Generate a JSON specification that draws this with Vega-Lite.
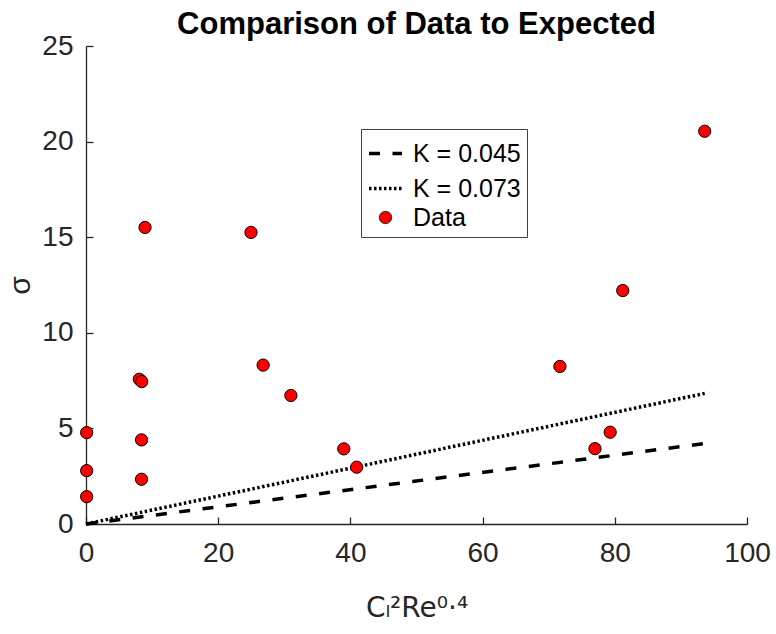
{
  "$schema": "https://vega.github.io/schema/vega-lite/v6.json",
  "width": 661,
  "height": 478,
  "autosize": {"type": "none"},
  "padding": {"left": 86, "top": 46, "right": 29, "bottom": 110},
  "background": "white",
  "title": {
    "text": "Comparison of Data to Expected",
    "font": "Liberation Sans, Arial, Helvetica, sans-serif",
    "fontSize": 31,
    "fontWeight": "bold",
    "color": "black",
    "anchor": "middle",
    "frame": "group",
    "baseline": "alphabetic",
    "offset": -33
  },
  "config": {
    "view": {"stroke": null},
    "font": "Liberation Sans, Arial, Helvetica, sans-serif",
    "legend": {
      "title": null,
      "orient": "none",
      "legendX": 275,
      "legendY": 83,
      "padding": 6,
      "fillColor": "white",
      "strokeColor": "#404040",
      "labelFontSize": 25,
      "labelColor": "black",
      "labelOffset": 9,
      "rowPadding": 3
    }
  },
  "datasets": {
    "points": [
      {"cx": 0.1, "sigma": 4.78, "series": "Data"},
      {"cx": 0.1, "sigma": 2.79, "series": "Data"},
      {"cx": 0.1, "sigma": 1.43, "series": "Data"},
      {"cx": 8.07, "sigma": 7.57, "series": "Data"},
      {"cx": 8.43, "sigma": 7.45, "series": "Data"},
      {"cx": 8.4, "sigma": 4.4, "series": "Data"},
      {"cx": 8.4, "sigma": 2.34, "series": "Data"},
      {"cx": 8.93, "sigma": 15.51, "series": "Data"},
      {"cx": 24.96, "sigma": 15.25, "series": "Data"},
      {"cx": 26.8, "sigma": 8.31, "series": "Data"},
      {"cx": 31.0, "sigma": 6.72, "series": "Data"},
      {"cx": 39.0, "sigma": 3.93, "series": "Data"},
      {"cx": 40.95, "sigma": 2.97, "series": "Data"},
      {"cx": 71.7, "sigma": 8.24, "series": "Data"},
      {"cx": 77.0, "sigma": 3.94, "series": "Data"},
      {"cx": 79.3, "sigma": 4.8, "series": "Data"},
      {"cx": 81.2, "sigma": 12.21, "series": "Data"},
      {"cx": 93.6, "sigma": 20.54, "series": "Data"}
    ],
    "lines": [
      {"cx": 0, "sigma": 0, "series": "K = 0.045"},
      {"cx": 93.6, "sigma": 4.21, "series": "K = 0.045"},
      {"cx": 0, "sigma": 0, "series": "K = 0.073"},
      {"cx": 93.6, "sigma": 6.83, "series": "K = 0.073"}
    ]
  },
  "encoding": {
    "x": {
      "field": "cx",
      "type": "quantitative",
      "scale": {"domain": [0, 100], "nice": false, "zero": false},
      "axis": {
        "title": "Cₗ²Re⁰·⁴",
        "values": [0, 20, 40, 60, 80, 100],
        "grid": false,
        "tickSize": -7,
        "tickWidth": 1.3,
        "domainWidth": 1.3,
        "domainColor": "#262626",
        "tickColor": "#262626",
        "labelColor": "#262626",
        "labelFontSize": 28,
        "labelPadding": 22,
        "labelFlush": false,
        "labelOverlap": false,
        "labelBound": false,
        "titleFont": "DejaVu Sans",
        "titleFontSize": 28,
        "titleFontWeight": "normal",
        "titleColor": "#262626",
        "titleY": 92,
        "titleBaseline": "alphabetic"
      }
    },
    "y": {
      "field": "sigma",
      "type": "quantitative",
      "scale": {"domain": [0, 25], "nice": false},
      "axis": {
        "title": "σ",
        "values": [0, 5, 10, 15, 20, 25],
        "grid": false,
        "tickSize": -7,
        "tickWidth": 1.3,
        "domainWidth": 1.3,
        "domainColor": "#262626",
        "tickColor": "#262626",
        "labelColor": "#262626",
        "labelFontSize": 28,
        "labelPadding": 20,
        "labelFlush": false,
        "labelOverlap": false,
        "labelBound": false,
        "titleFontSize": 30,
        "titleFontWeight": "normal",
        "titleColor": "#262626",
        "titleX": -66,
        "titleY": 239,
        "titleAngle": -90,
        "titleBaseline": "middle"
      }
    }
  },
  "layer": [
    {
      "data": {"name": "lines"},
      "mark": {"type": "line", "color": "black", "strokeWidth": 3.5, "strokeCap": "butt"},
      "encoding": {
        "strokeDash": {
          "field": "series",
          "type": "nominal",
          "scale": {"domain": ["K = 0.045", "K = 0.073", "Data"], "range": [[11, 12.5], [2.5, 2.5], [1, 0]]},
          "legend": {}
        }
      }
    },
    {
      "data": {"name": "points"},
      "mark": {"type": "point", "filled": true, "stroke": "black", "opacity": 1},
      "encoding": {
        "color": {
          "field": "series",
          "type": "nominal",
          "scale": {"domain": ["K = 0.045", "K = 0.073", "Data"], "range": ["black", "black", "#ff0000"]},
          "legend": {}
        },
        "shape": {
          "field": "series",
          "type": "nominal",
          "scale": {"domain": ["K = 0.045", "K = 0.073", "Data"], "range": ["stroke", "stroke", "circle"]},
          "legend": {}
        },
        "size": {
          "field": "series",
          "type": "nominal",
          "scale": {"type": "ordinal", "domain": ["K = 0.045", "K = 0.073", "Data"], "range": [1089, 1089, 150]},
          "legend": {}
        },
        "strokeWidth": {
          "field": "series",
          "type": "nominal",
          "scale": {"type": "ordinal", "domain": ["K = 0.045", "K = 0.073", "Data"], "range": [3.5, 3.5, 1]},
          "legend": {}
        }
      }
    }
  ]
}
